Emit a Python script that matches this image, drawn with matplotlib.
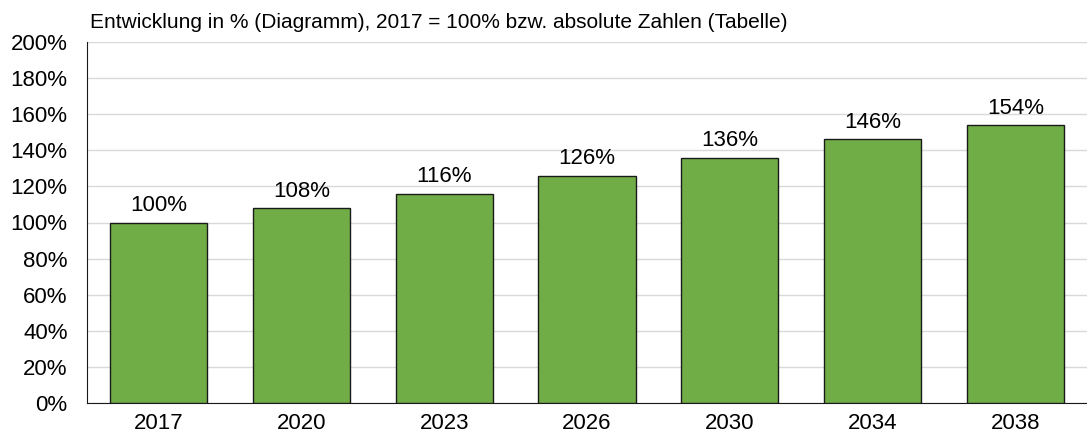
import numpy as np
import matplotlib.pyplot as plt
from matplotlib.ticker import FuncFormatter

plt.rcParams['font.family'] = ['Liberation Sans', 'DejaVu Sans']

years = ['2017', '2020', '2023', '2026', '2030', '2034', '2038']
values = [100, 108, 116, 126, 136, 146, 154]

fig = plt.figure(figsize=(10.87, 4.37), dpi=100)
ax = fig.add_axes([87/1087, 1 - 403/437, 1 - 87/1087, (403 - 42)/437])

x = np.arange(len(years))
bars = ax.bar(x, values, width=0.68, color='#70AD47', edgecolor='#1a1a1a', linewidth=1.0, zorder=3)

for xi, v in zip(x, values):
    ax.text(xi, v + 3.5, f'{v}%', ha='center', va='bottom', fontsize=16)

ax.set_xlim(-0.5, len(years) - 0.5)
ax.set_ylim(0, 200)
ax.set_yticks(np.arange(0, 201, 20))
ax.yaxis.set_major_formatter(FuncFormatter(lambda v, p: f'{int(v)}%'))
ax.set_xticks(x)
ax.set_xticklabels(years)
ax.tick_params(axis='both', length=0, labelsize=16)
ax.tick_params(axis='x', pad=7)
ax.tick_params(axis='y', pad=14)

ax.grid(axis='y', color='#d9d9d9', linewidth=1, zorder=0)
ax.spines['top'].set_visible(False)
ax.spines['right'].set_visible(False)
ax.spines['left'].set_color('#1a1a1a')
ax.spines['bottom'].set_color('#1a1a1a')

fig.text(90/1087, 1 - 22/437, 'Entwicklung in % (Diagramm), 2017 = 100% bzw. absolute Zahlen (Tabelle)',
         ha='left', va='center', fontsize=15)

plt.savefig('out.png', dpi=100)
plt.close()
